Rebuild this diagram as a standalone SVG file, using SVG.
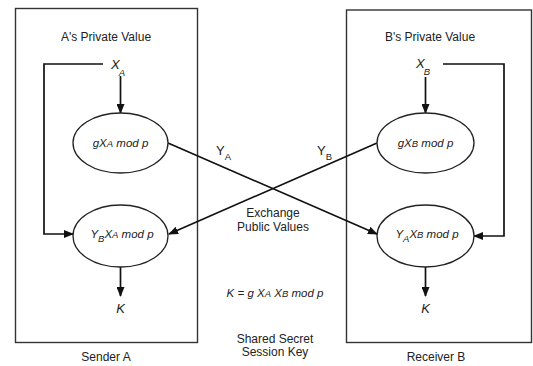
<svg xmlns="http://www.w3.org/2000/svg" width="533" height="366" viewBox="0 0 533 366">
<defs>
<marker id="ah" markerWidth="10" markerHeight="8" refX="9" refY="4" orient="auto" markerUnits="userSpaceOnUse">
<path d="M0,0 L10,4 L0,8 Z" fill="#111"/>
</marker>
<style>
.box{fill:none;stroke:#333;stroke-width:1.4}
.ell{fill:#fff;stroke:#222;stroke-width:1.3}
.ln{fill:none;stroke:#111;stroke-width:1.7}
.t{font-family:"Liberation Sans",Arial,sans-serif;font-size:12px;fill:#222}
.i{font-family:"Liberation Sans",Arial,sans-serif;font-size:11.5px;font-style:italic;fill:#222}
.x{font-size:13px}
.s{font-size:9.5px}
</style>
</defs>
<rect width="533" height="366" fill="#fff"/>
<g id="senderA">
<rect class="box" x="15.5" y="8.5" width="182" height="334"/>
<text class="t" x="106" y="41" text-anchor="middle">A's Private Value</text>
<text class="t" x="106" y="361" text-anchor="middle">Sender A</text>
</g>
<g id="receiverB">
<rect class="box" x="346.5" y="10" width="185" height="332.5"/>
<text class="t" x="430" y="41" text-anchor="middle">B's Private Value</text>
<text class="t" x="436" y="361" text-anchor="middle">Receiver B</text>
</g>
<g id="xa">
<text class="i x" x="111" y="69">X<tspan class="s" dx="-1" dy="7">A</tspan></text>
</g>
<g id="xb">
<text class="i x" x="416" y="68">X<tspan class="s" dx="-1" dy="7">B</tspan></text>
</g>
<g id="connectors">
<line class="ln" x1="120.5" y1="76" x2="120.5" y2="113" marker-end="url(#ah)"/>
<line class="ln" x1="425.5" y1="77" x2="425.5" y2="113" marker-end="url(#ah)"/>
<polyline class="ln" points="103,64 44,64 44,234 73,234" marker-end="url(#ah)"/>
<polyline class="ln" points="443,64 504,64 504,236 474,236" marker-end="url(#ah)"/>
<line class="ln" x1="168" y1="143" x2="377" y2="234" marker-end="url(#ah)"/>
<line class="ln" x1="377" y1="143" x2="169" y2="234" marker-end="url(#ah)"/>
<line class="ln" x1="120.5" y1="267" x2="120.5" y2="296" marker-end="url(#ah)"/>
<line class="ln" x1="425.5" y1="267" x2="425.5" y2="296" marker-end="url(#ah)"/>
</g>
<g id="genA">
<ellipse class="ell" cx="120.5" cy="143" rx="47.5" ry="30"/>
<text class="i" x="120.5" y="147" text-anchor="middle">gX<tspan class="s">A</tspan> mod p</text>
</g>
<g id="genB">
<ellipse class="ell" cx="425.5" cy="143" rx="48.5" ry="30"/>
<text class="i" x="425.5" y="147" text-anchor="middle">gX<tspan class="s">B</tspan> mod p</text>
</g>
<g id="keyA">
<ellipse class="ell" cx="120.5" cy="236" rx="47.5" ry="31"/>
<text class="i" x="122" y="238" text-anchor="middle">Y<tspan class="s" dy="4">B</tspan><tspan dy="-4">X</tspan><tspan class="s">A</tspan> mod p</text>
</g>
<g id="keyB">
<ellipse class="ell" cx="425.5" cy="236" rx="48.5" ry="31"/>
<text class="i" x="427" y="238" text-anchor="middle">Y<tspan class="s" dy="4">A</tspan><tspan dy="-4">X</tspan><tspan class="s">B</tspan> mod p</text>
</g>
<g id="labels">
<text class="t x" x="216" y="155">Y<tspan class="s" dy="5">A</tspan></text>
<text class="t x" x="317" y="155">Y<tspan class="s" dy="5">B</tspan></text>
<text class="t" x="273" y="217" text-anchor="middle">Exchange</text>
<text class="t" x="273" y="231" text-anchor="middle">Public Values</text>
<text class="i" x="275" y="297" text-anchor="middle">K = g X<tspan class="s">A</tspan> X<tspan class="s">B</tspan> mod p</text>
<text class="t" x="275" y="343" text-anchor="middle">Shared Secret</text>
<text class="t" x="275" y="356" text-anchor="middle">Session Key</text>
</g>
<g id="kA"><text class="i x" x="120.5" y="313" text-anchor="middle">K</text></g>
<g id="kB"><text class="i x" x="425.5" y="313" text-anchor="middle">K</text></g>
</svg>
